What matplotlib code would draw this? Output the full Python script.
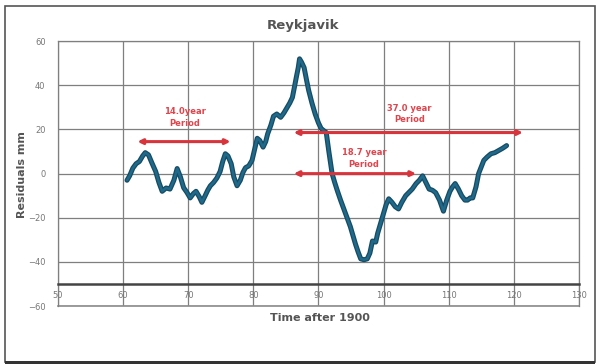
import matplotlib.pyplot as plt
from matplotlib.patches import Rectangle

# residual series read at roughly half-year steps
years = [60.6, 61.0, 61.5, 62.0, 62.5, 63.0, 63.4, 63.9, 64.4, 65.0, 65.5, 66.0, 66.6,
         67.2, 67.8, 68.3, 68.8, 69.3, 69.8, 70.3, 70.8, 71.2, 71.7, 72.1, 72.6, 73.0,
         73.4, 73.9, 74.4, 74.9, 75.3, 75.7, 76.1, 76.6, 77.0, 77.5, 78.0, 78.4, 78.8,
         79.3, 79.8, 80.2, 80.6, 81.0, 81.5, 81.9, 82.2, 82.7, 83.1, 83.6, 84.2, 84.7,
         85.2, 85.6, 86.0, 86.3, 86.6, 86.9, 87.1, 87.4, 87.8, 88.2, 88.5, 89.0, 89.5,
         90.0, 90.4, 90.8, 91.2, 91.6, 92.1, 92.5, 92.9, 93.4, 93.9, 94.4, 94.9, 95.3,
         95.7, 96.1, 96.5, 97.0, 97.5, 97.9, 98.3, 98.8, 99.1, 99.5, 100.0, 100.4, 100.8,
         101.3, 101.8, 102.3, 102.8, 103.4, 103.9, 104.4, 105.0, 105.5, 106.0, 106.5,
         107.0, 107.5, 108.0, 108.6, 109.2, 109.7, 110.2, 110.6, 111.0, 111.5, 112.0,
         112.5, 112.9, 113.3, 113.7, 114.2, 114.6, 115.0, 115.4, 115.9, 116.5, 117.1,
         117.7, 118.3, 118.9]
residuals = [-3.0, -1.0, 2.5, 4.5, 5.5, 8.0, 9.5, 8.5, 5.0, 1.0, -4.0, -8.0, -6.5,
             -7.0, -3.0, 2.3, -1.5, -6.4, -8.5, -11.0, -9.0, -8.0, -10.5, -13.0, -10.0,
             -7.5, -5.5, -4.0, -2.0, 1.0, 5.5, 9.0, 8.0, 4.5, -1.5, -5.5, -3.0, 0.5, 2.7,
             3.5, 6.0, 11.0, 16.0, 15.0, 12.0, 14.5, 18.0, 22.0, 26.0, 27.0, 25.5, 27.5,
             30.0, 32.0, 34.5, 39.0, 43.6, 48.0, 52.0, 50.5, 48.0, 42.0, 37.7, 32.0, 27.0,
             23.0, 20.5, 19.5, 18.6, 10.0, 0.0, -4.0, -7.7, -12.0, -16.0, -20.0, -24.0,
             -28.0, -32.0, -35.5, -38.6, -39.0, -38.6, -36.0, -30.5, -31.0, -27.0, -23.0,
             -18.0, -14.0, -11.4, -13.0, -15.0, -16.0, -13.0, -10.0, -8.5, -7.0, -4.5,
             -3.0, -1.0, -4.0, -7.0, -7.5, -8.6, -12.0, -17.0, -12.0, -8.0, -6.0, -4.5,
             -7.0, -10.0, -12.0, -12.0, -11.0, -11.0, -6.0, 0.0, 3.0, 6.0, 7.5, 9.0, 9.5,
             10.5, 11.5, 12.7]

# period arrows: (start year, end year, level, label, label x, label y)
periods = [
    (62.2, 76.5, 14.5, "14.0year\nPeriod", 69.5, 25.5),
    (86.2, 121.4, 18.6, "37.0 year\nPeriod", 104.0, 27.0),
    (86.2, 105.0, 0.0, "18.7 year\nPeriod", 97.0, 7.0),
]

x_ticks = [50, 60, 70, 80, 90, 100, 110, 120, 130]
y_ticks = [-60, -40, -20, 0, 20, 40, 60]

fig = plt.figure(figsize=(5.98, 3.64), dpi=100)
fig.patches.append(Rectangle((0.008, 0.006), 0.987, 0.978, transform=fig.transFigure,
                             fill=False, edgecolor="#555555", linewidth=1.2))
fig.patches.append(Rectangle((0.008, 0.0), 0.987, 0.008, transform=fig.transFigure,
                             facecolor="#333333", edgecolor="none"))

ax = fig.add_axes([0.097, 0.159, 0.871, 0.728])
ax.set_xlim(50, 130)
ax.set_ylim(-60, 60)
ax.set_xticks(x_ticks)
ax.set_yticks(y_ticks)

ax.grid(True, color="#7f7f7f", linewidth=0.9)
ax.set_axisbelow(True)
for side in ("top", "right", "left"):
    ax.spines[side].set_color("#7f7f7f")
    ax.spines[side].set_linewidth(0.9)
ax.spines["bottom"].set_position(("data", -50))
ax.spines["bottom"].set_color("#444444")
ax.spines["bottom"].set_linewidth(1.8)
ax.axhline(-60, color="#8a8a8a", linewidth=1.2, clip_on=False)

ax.tick_params(axis="x", length=0, pad=5, labelsize=6, labelcolor="#777777")
ax.tick_params(axis="y", length=0, pad=9, labelsize=6, labelcolor="#777777")

ax.plot(years, residuals, color="#164b63", linewidth=3.6, solid_capstyle="round", zorder=3)
ax.plot(years, residuals, color="#1f6a8a", linewidth=1.8, solid_capstyle="round", zorder=4)

for x0, x1, level, label, lx, ly in periods:
    ax.annotate("", xy=(x1, level), xytext=(x0, level),
                arrowprops=dict(arrowstyle="<|-|>", color="#d8343c", linewidth=2.2,
                                mutation_scale=7, shrinkA=0, shrinkB=0), zorder=5)
    ax.text(lx, ly, label, color="#e0444c", fontsize=6, fontweight="bold",
            ha="center", va="center", linespacing=1.4, zorder=6)

fig.text(0.507, 0.93, "Reykjavik", ha="center", va="center", fontsize=9.5,
         fontweight="bold", color="#555555")
fig.text(0.535, 0.126, "Time after 1900", ha="center", va="center", fontsize=8,
         fontweight="bold", color="#555555")
fig.text(0.037, 0.52, "Residuals mm", ha="center", va="center", rotation=90,
         fontsize=8, fontweight="bold", color="#555555")

fig.savefig("out.png", dpi=100)
